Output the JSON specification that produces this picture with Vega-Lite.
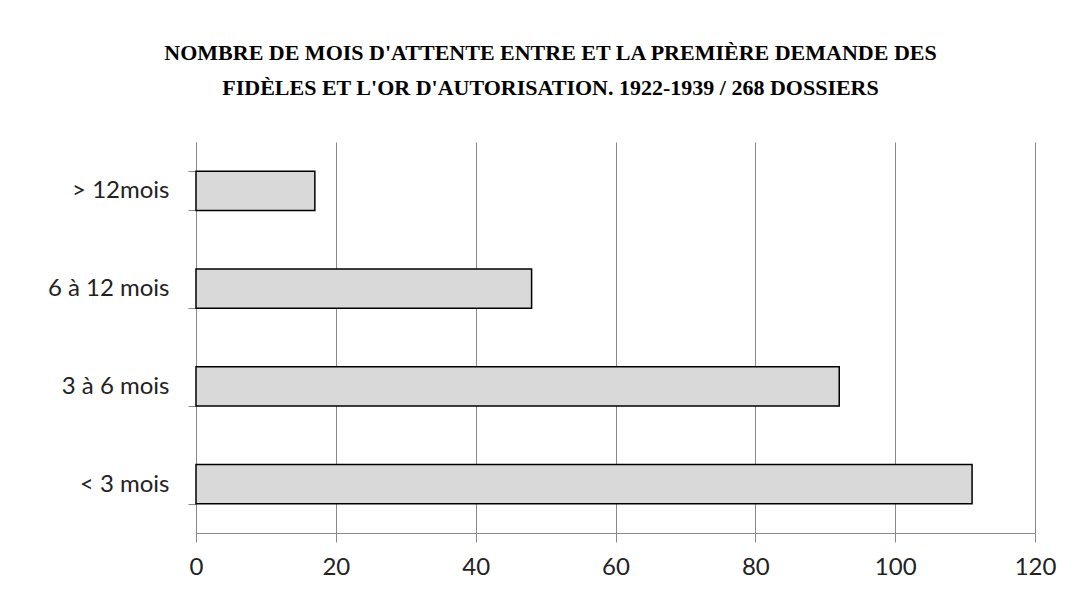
{
  "$schema": "https://vega.github.io/schema/vega-lite/v6.json",
  "width": 839,
  "height": 391,
  "autosize": "none",
  "padding": {"left": 196, "top": 142, "right": 39, "bottom": 58},
  "background": "white",
  "title": {
    "text": ["NOMBRE DE MOIS D'ATTENTE ENTRE ET LA PREMIÈRE DEMANDE DES", "FIDÈLES ET L'OR D'AUTORISATION. 1922-1939 / 268 DOSSIERS"],
    "font": "Liberation Serif",
    "fontSize": 22,
    "fontWeight": "bold",
    "color": "#000000",
    "anchor": "middle",
    "frame": "group",
    "dx": -65,
    "offset": 30,
    "lineHeight": 35
  },
  "data": {
    "values": [
      {"duree": "> 12mois", "dossiers": 17},
      {"duree": "6 à 12 mois", "dossiers": 48},
      {"duree": "3 à 6 mois", "dossiers": 92},
      {"duree": "< 3 mois", "dossiers": 111}
    ]
  },
  "mark": {"type": "bar", "fill": "#d9d9d9", "stroke": "#000000", "strokeWidth": 1.5},
  "encoding": {
    "y": {
      "field": "duree",
      "type": "nominal",
      "sort": ["> 12mois", "6 à 12 mois", "3 à 6 mois", "< 3 mois"],
      "scale": {"paddingInner": 0.6, "paddingOuter": 0.3},
      "axis": {
        "title": null,
        "tickBand": "extent",
        "grid": false,
        "domainColor": "#888888",
        "tickColor": "#888888",
        "tickSize": 8,
        "labelFont": "Lato",
        "labelFontSize": 24,
        "labelColor": "#222222",
        "labelPadding": 19
      }
    },
    "x": {
      "field": "dossiers",
      "type": "quantitative",
      "scale": {"domain": [0, 120]},
      "axis": {
        "title": null,
        "values": [0, 20, 40, 60, 80, 100, 120],
        "grid": true,
        "gridColor": "#888888",
        "domainColor": "#888888",
        "tickColor": "#888888",
        "tickSize": 9,
        "labelFont": "Lato",
        "labelFontSize": 24,
        "labelColor": "#222222",
        "labelPadding": 13,
        "labelFlush": false
      }
    }
  },
  "config": {"view": {"stroke": null}}
}
